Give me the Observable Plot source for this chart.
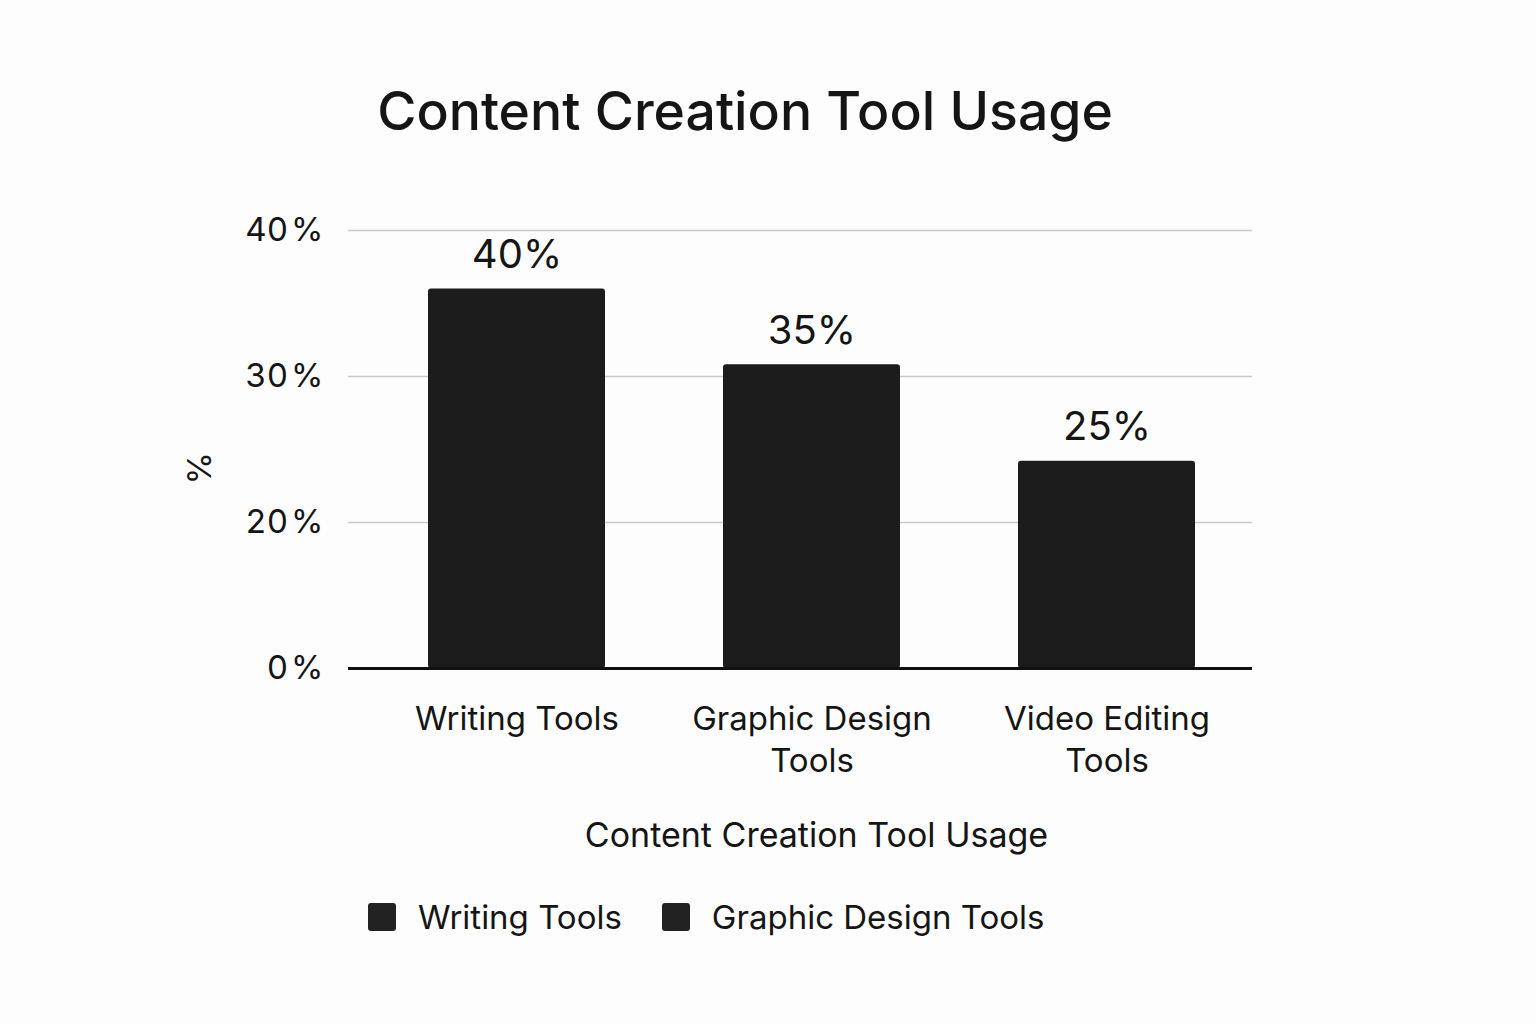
<!DOCTYPE html>
<html>
<head>
<meta charset="utf-8">
<script src="https://cdn.jsdelivr.net/npm/d3@7"></script>
<script src="https://cdn.jsdelivr.net/npm/@observablehq/plot@0.6"></script>
<style>
  html, body { margin: 0; padding: 0; background: #fdfdfd; }
  #wrap { position: relative; width: 1536px; height: 1024px; font-family: Inter, "Noto Sans", sans-serif; color: #151515; }
  #title { position: absolute; top: 78px; left: 745px; transform: translateX(-50%); white-space: nowrap; font-size: 53.5px; font-weight: 500; }
  #chart { position: absolute; top: 0; left: 0; }
  #legend { position: absolute; top: 897px; left: 368px; display: flex; align-items: center; font-size: 33px; white-space: nowrap; }
  .sw { width: 28px; height: 28px; background: #222; border-radius: 3px; margin-right: 22px; }
  .item { display: flex; align-items: center; margin-right: 40px; }
</style>
</head>
<body>
<div id="wrap">
  <div id="title"></div>
  <div id="chart"></div>
  <div id="legend"></div>
</div>
<script>
const titleText = "Content Creation Tool Usage";
const categories = ["Writing Tools", "Graphic Design Tools", "Video Editing Tools"];
const xTickLabels = ["Writing Tools", "Graphic Design\nTools", "Video Editing\nTools"];
const barValues = [36.0, 30.8, 24.2];
const valueLabels = ["40%", "35%", "25%"];
const yTicks = [0, 20, 30, 40];
const yTickLabels = ["0\u200a%", "20\u200a%", "30\u200a%", "40\u200a%"];
const yLabel = "%";
const xLabel = "Content Creation Tool Usage";
const legendItems = ["Writing Tools", "Graphic Design Tools"];

const data = categories.map((c, i) => ({cat: c, value: barValues[i], label: valueLabels[i]}));

document.getElementById("title").textContent = titleText;

const chart = Plot.plot({
  width: 1536,
  height: 1024,
  marginLeft: 348,
  marginRight: 284,
  marginTop: 230,
  marginBottom: 356,
  style: {background: "transparent", fontFamily: "Inter, 'Noto Sans', sans-serif", color: "#151515"},
  x: {domain: categories, range: [428, 1195], paddingInner: 0.4, paddingOuter: 0, align: 0.5},
  y: {type: "linear", domain: yTicks, range: [668, 522, 376, 230]},
  marks: [
    Plot.ruleY(yTicks.filter(d => d > 0), {stroke: "#c9c9c9", strokeWidth: 1.5}),
    Plot.barY(data, {x: "cat", y: "value", fill: "#1c1c1c", rx: 3}),
    Plot.ruleY([0], {stroke: "#111", strokeWidth: 3}),
    Plot.text(data, {x: "cat", y: "value", text: "label", dy: -21, lineAnchor: "bottom", fontSize: 40, fill: "#151515"}),
    Plot.axisY({ticks: yTicks, tickFormat: d => yTickLabels[yTicks.indexOf(d)], tickSize: 0, tickPadding: 25, fontSize: 33, label: null}),
    Plot.axisX({tickFormat: d => xTickLabels[categories.indexOf(d)], tickSize: 0, tickPadding: 32, fontSize: 33, lineHeight: 1.27, label: null}),
    Plot.text([yLabel], {frameAnchor: "left", dx: -148, dy: 35, rotate: -90, fontSize: 33, fill: "#151515"}),
    Plot.text([xLabel], {frameAnchor: "bottom", dx: 16, dy: 168, lineAnchor: "middle", fontSize: 34, fill: "#151515"})
  ]
});
document.getElementById("chart").appendChild(chart);

const legend = document.getElementById("legend");
legendItems.forEach(name => {
  const it = document.createElement("div");
  it.className = "item";
  const sw = document.createElement("div");
  sw.className = "sw";
  const tx = document.createElement("span");
  tx.textContent = name;
  it.appendChild(sw);
  it.appendChild(tx);
  legend.appendChild(it);
});
</script>
</body>
</html>
